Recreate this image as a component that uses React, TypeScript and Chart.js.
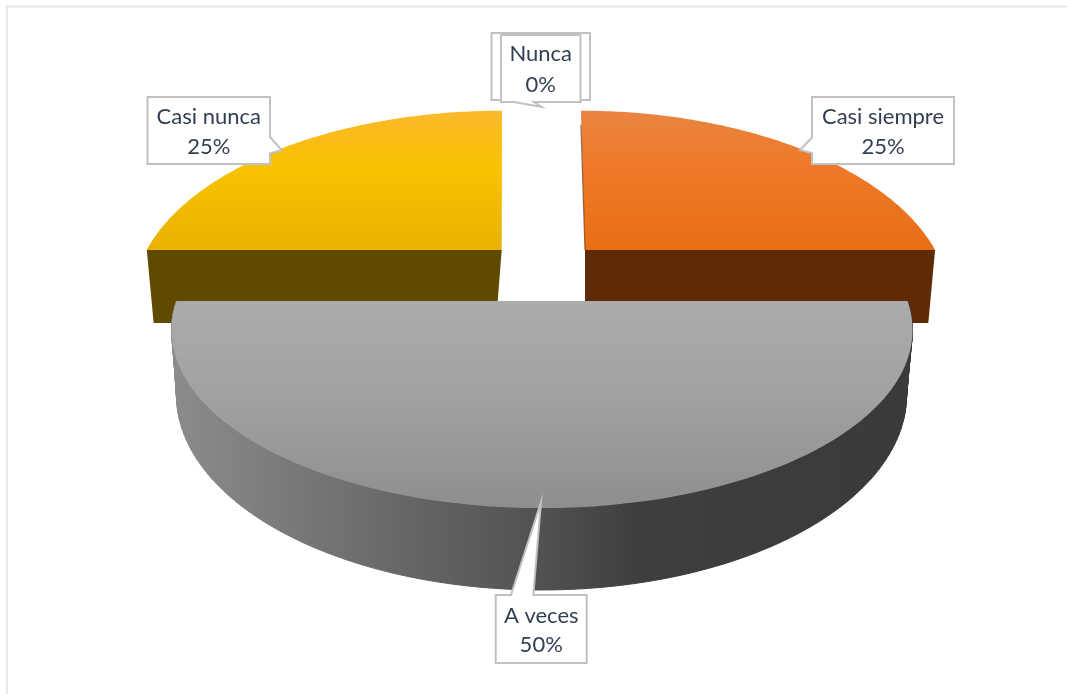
import React, { useEffect, useRef } from "react";
import { Chart, registerables } from "chart.js";

Chart.register(...registerables);

// ---- data ----
const categories = ["Nunca", "Casi siempre", "A veces", "Casi nunca"];
const percentages = [0, 25, 50, 25];
const baseColors = ["#5b9bd5", "#ed7d31", "#a5a5a5", "#ffc000"];

// ---- perspective of each slice: ellipse of its face, and how far its centre sits from the ellipse centre ----
type Proj = { cx: number; cy: number; rx: number; ry: number; k: number; shear: number };
const NONE: Proj = { cx: 541, cy: 300, rx: 1, ry: 1, k: 0, shear: 0 };
const topFaces: Proj[] = [
  NONE,
  { cx: 585, cy: 300, rx: 363, ry: 189.3, k: -0.2646, shear: 0.029 },
  { cx: 542, cy: 330, rx: 370.5, ry: 178, k: -0.163, shear: 0 },
  { cx: 501.7, cy: 300, rx: 368, ry: 189.3, k: -0.2646, shear: -0.002 },
];
const bottomFaces: Proj[] = [
  NONE,
  { cx: 585, cy: 373, rx: 356, ry: 189.3, k: -0.2646, shear: 0 },
  { cx: 541.5, cy: 395, rx: 365, ry: 195, k: -0.087, shear: 0 },
  { cx: 496, cy: 373, rx: 355, ry: 189.3, k: -0.2646, shear: 0 },
];
const topStops: [number, string][][] = [
  [],
  [[0, "#e98543"], [0.35, "#ee7a2a"], [1, "#e96f16"]],
  [[0, "#ababab"], [0.45, "#a2a2a2"], [1, "#8e8e8e"]],
  [[0, "#fbb92e"], [0.4, "#f9c200"], [1, "#e9b200"]],
];
const wallStops: [number, string][][] = [
  [],
  [[0, "#5e2b06"], [1, "#5e2b06"]],
  [[0, "#8c8c8c"], [0.17, "#787878"], [0.37, "#606060"], [0.5, "#515151"], [0.63, "#3e3e3e"], [1, "#3a3a3a"]],
  [[0, "#5f4a00"], [1, "#5f4a00"]],
];
// which straight edge of the slice shows its wall toward the viewer (the grey slice shows its rim)
const wallKinds = ["none", "endEdge", "rim", "startEdge"];

type Callout = {
  box: [number, number, number, number];
  tail: [number, number][];
  back?: [number, number, number, number];
  lines: [number, number];
};
const callouts: Callout[] = [
  { box: [501, 35, 580.5, 102], back: [491.5, 33, 590, 100], tail: [[514, 102], [541.7, 107], [534, 102]], lines: [54, 85] },
  { box: [812, 97, 954, 164], tail: [[812, 137.5], [800, 150], [812, 153]], lines: [117, 147] },
  { box: [495.7, 595, 586.7, 663], tail: [[511, 595], [541, 502], [533.3, 595]], lines: [616, 645] },
  { box: [147.5, 97, 270, 164], tail: [[270, 137], [281.7, 150], [270, 153.5]], lines: [117, 147] },
];

function project(p: Proj, u: number, v: number): [number, number] {
  const d = 1 + p.k * v;
  const X = (u * Math.sqrt(1 - p.k * p.k)) / d;
  const Y = (v + p.k) / d;
  const y = p.cy + p.ry * Y;
  const x = p.cx + p.rx * X + p.shear * (y - (p.cy + p.ry * p.k));
  return [x, y];
}

function sliceGradient(ctx: CanvasRenderingContext2D, stops: [number, string][], x0: number, y0: number, x1: number, y1: number) {
  const g = ctx.createLinearGradient(x0, y0, x1, y1);
  stops.forEach(([o, c]) => g.addColorStop(o, c));
  return g;
}

const projectedPie = {
  id: "projectedPie",
  beforeDatasetsDraw(chart: any) {
    const ctx: CanvasRenderingContext2D = chart.ctx;
    const arcs = chart.getDatasetMeta(0).data;
    const STEPS = 120;
    // panel frame
    ctx.save();
    ctx.fillStyle = "#e4e7eb";
    ctx.fillRect(6, 5.5, chart.width - 6, 2);
    ctx.fillRect(6, 5.5, 2, chart.height - 5.5);
    ctx.restore();

    const rim = (p: Proj, a: any) => {
      const pts: [number, number][] = [];
      for (let i = 0; i <= STEPS; i++) {
        const t = a.startAngle + ((a.endAngle - a.startAngle) * i) / STEPS;
        pts.push(project(p, Math.cos(t), Math.sin(t)));
      }
      return pts;
    };

    [1, 3, 2].forEach((i) => {
      const a = arcs[i];
      const top = topFaces[i];
      const bot = bottomFaces[i];
      const kind = wallKinds[i];
      const outer = rim(top, a);
      const lower = rim(bot, a);
      ctx.save();
      if (kind === "rim") {
        const xs = outer.map((q) => q[0]);
        const minX = Math.min(...xs);
        const maxX = Math.max(...xs);
        ctx.fillStyle = sliceGradient(ctx, wallStops[i], minX, 0, maxX, 0);
        ctx.strokeStyle = ctx.fillStyle;
        ctx.lineWidth = 1;
        ctx.beginPath();
        for (let s = 0; s < STEPS; s++) {
          ctx.moveTo(outer[s][0], outer[s][1]);
          ctx.lineTo(outer[s + 1][0], outer[s + 1][1]);
          ctx.lineTo(lower[s + 1][0], lower[s + 1][1]);
          ctx.lineTo(lower[s][0], lower[s][1]);
          ctx.closePath();
        }
        ctx.fill("nonzero");
        ctx.stroke();
      } else {
        const angle = kind === "endEdge" ? a.endAngle : a.startAngle;
        const u = Math.cos(angle);
        const v = Math.sin(angle);
        const q = [project(top, 0, 0), project(top, u, v), project(bot, u, v), project(bot, 0, 0)];
        ctx.fillStyle = sliceGradient(ctx, wallStops[i], 0, q[0][1], 0, q[2][1]);
        ctx.beginPath();
        q.forEach((pt, n) => (n ? ctx.lineTo(pt[0], pt[1]) : ctx.moveTo(pt[0], pt[1])));
        ctx.closePath();
        ctx.fill();
      }
      // top face
      const c = project(top, 0, 0);
      const ys = outer.map((q) => q[1]);
      const minY = Math.min(...ys, c[1]);
      const maxY = Math.max(...ys, c[1]);
      ctx.fillStyle = sliceGradient(ctx, topStops[i], 0, minY, 0, maxY);
      ctx.beginPath();
      ctx.moveTo(c[0], c[1]);
      outer.forEach((pt) => ctx.lineTo(pt[0], pt[1]));
      ctx.closePath();
      ctx.fill();
      // thin shaded edge where the orange slice's inner wall just shows
      if (kind === "endEdge") {
        const s = outer[0];
        ctx.strokeStyle = "rgba(110,50,10,0.7)";
        ctx.lineWidth = 1.2;
        ctx.beginPath();
        ctx.moveTo(s[0], s[1] + 14);
        ctx.lineTo(c[0], c[1]);
        ctx.stroke();
      }
      ctx.restore();
    });

    // callouts
    ctx.save();
    const labels: string[] = chart.data.labels;
    const vals: number[] = chart.data.datasets[0].data;
    callouts.forEach((c, i) => {
      ctx.lineWidth = 2;
      ctx.strokeStyle = "#bfc1c3";
      ctx.fillStyle = "#ffffff";
      if (c.back) {
        const [x0, y0, x1, y1] = c.back;
        ctx.fillRect(x0, y0, x1 - x0, y1 - y0);
        ctx.strokeRect(x0, y0, x1 - x0, y1 - y0);
      }
      const [x0, y0, x1, y1] = c.box;
      const [t0, t1, t2] = c.tail;
      const path = new Path2D();
      path.moveTo(x0, y0);
      const seq: [number, number][] = [];
      const corners: [number, number][] = [[x1, y0], [x1, y1], [x0, y1], [x0, y0]];
      // walk the box clockwise and insert the tail on the side it belongs to
      let from: [number, number] = [x0, y0];
      corners.forEach((to) => {
        const onSide = (p: [number, number]) =>
          Math.abs((to[0] - from[0]) * (p[1] - from[1]) - (to[1] - from[1]) * (p[0] - from[0])) < 1 &&
          p[0] >= Math.min(from[0], to[0]) - 1 && p[0] <= Math.max(from[0], to[0]) + 1 &&
          p[1] >= Math.min(from[1], to[1]) - 1 && p[1] <= Math.max(from[1], to[1]) + 1;
        if (onSide(t0) && onSide(t2)) {
          const d0 = Math.hypot(t0[0] - from[0], t0[1] - from[1]);
          const d2 = Math.hypot(t2[0] - from[0], t2[1] - from[1]);
          if (d0 < d2) seq.push(t0, t1, t2);
          else seq.push(t2, t1, t0);
        }
        seq.push(to);
        from = to;
      });
      seq.forEach((p) => path.lineTo(p[0], p[1]));
      path.closePath();
      ctx.fill(path);
      ctx.stroke(path);
      ctx.fillStyle = "#323f52";
      ctx.font = "22px Lato";
      ctx.textAlign = "center";
      ctx.textBaseline = "middle";
      const mid = (x0 + x1) / 2;
      ctx.fillText(labels[i], mid, c.lines[0]);
      ctx.fillText(`${vals[i]}%`, mid, c.lines[1]);
    });
    ctx.restore();
    return false;
  },
};

export default function App() {
  const ref = useRef<HTMLCanvasElement | null>(null);
  useEffect(() => {
    if (!ref.current) return;
    const chart = new Chart(ref.current, {
      type: "pie",
      data: {
        labels: categories,
        datasets: [{ data: percentages, backgroundColor: baseColors, borderWidth: 0 }],
      },
      options: {
        responsive: false,
        animation: false,
        events: [],
        plugins: { legend: { display: false }, tooltip: { enabled: false } },
      },
      plugins: [projectedPie as any],
    });
    return () => chart.destroy();
  }, []);
  return (
    <canvas
      ref={ref}
      width={1067}
      height={694}
      style={{ position: "absolute", left: 0, top: 0, display: "block", background: "#fff" }}
    />
  );
}
